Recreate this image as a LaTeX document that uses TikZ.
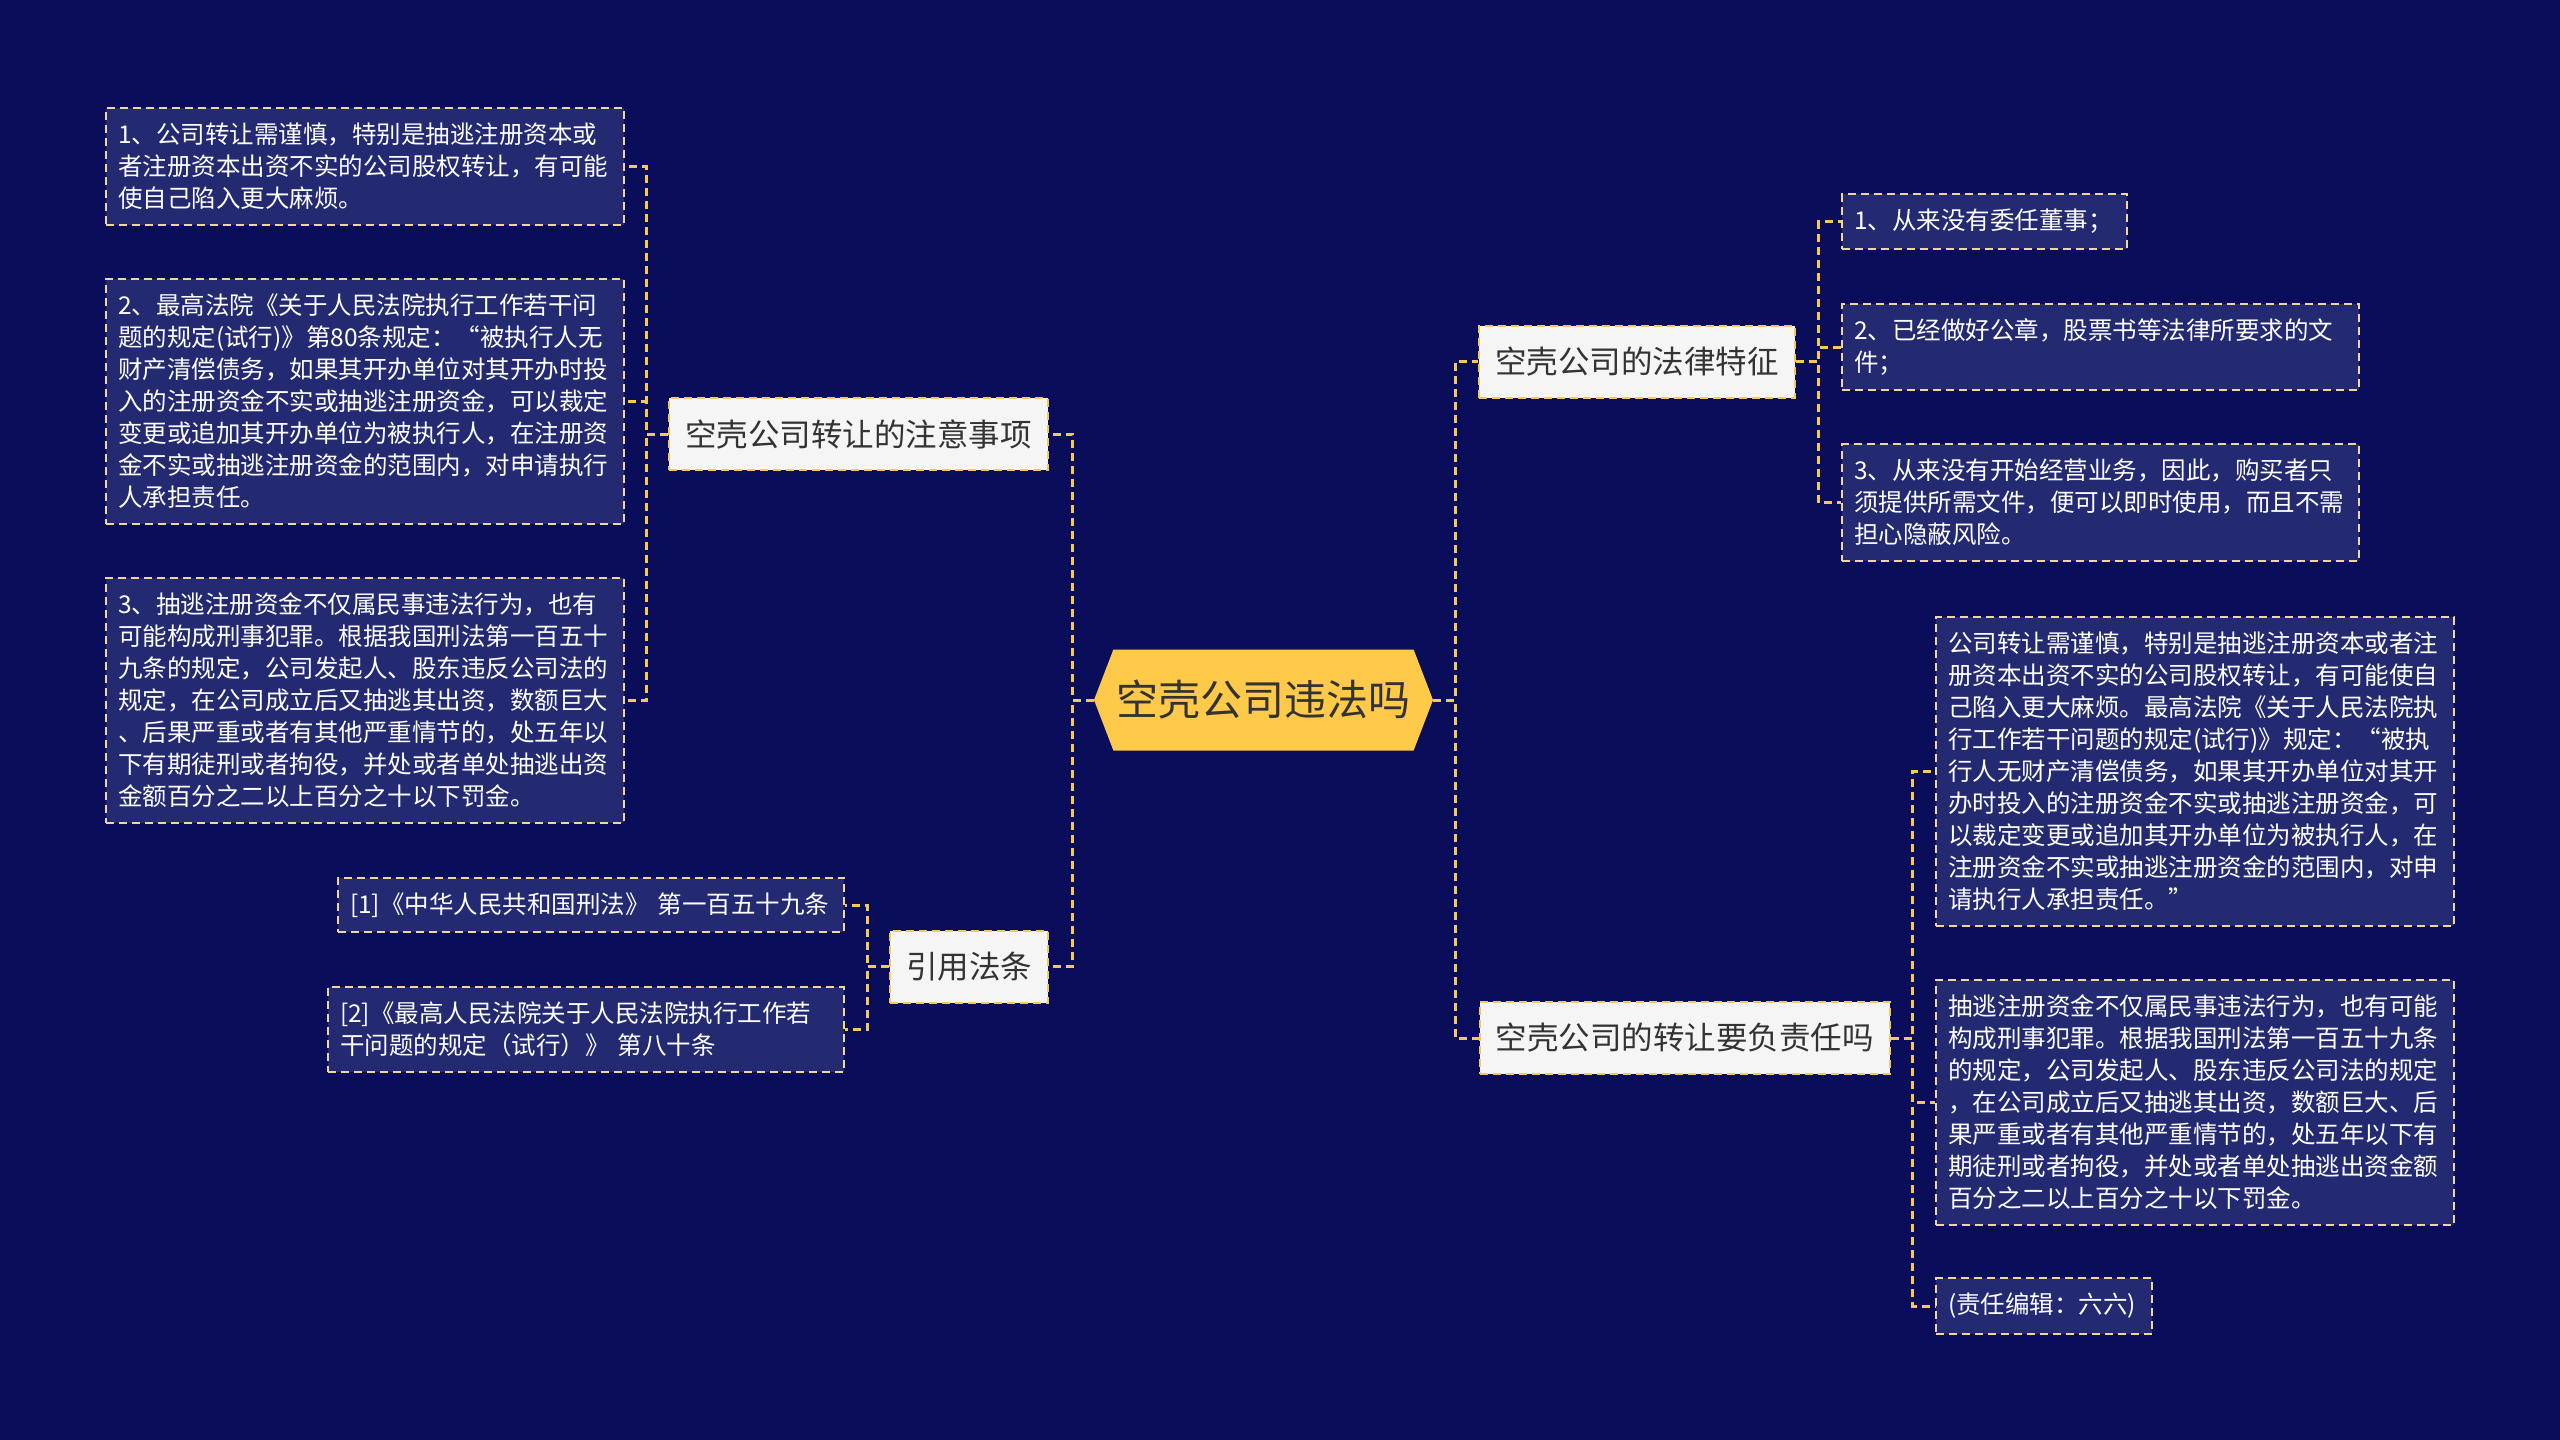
\documentclass[tikz,border=0pt]{standalone}
\usepackage{fontspec}
\setmainfont{Noto Sans CJK SC}
\usetikzlibrary{shapes.symbols}
\definecolor{mNavy}{HTML}{0A0E5A}
\definecolor{mLeaf}{HTML}{242A72}
\definecolor{mGold}{HTML}{FFC94A}
\definecolor{mCream}{HTML}{F2D79C}
\definecolor{mLine}{HTML}{F5C85A}
\definecolor{mPaper}{HTML}{F5F5F5}
\definecolor{mInk}{HTML}{333333}

\begin{document}
\begin{tikzpicture}[
  x=1pt, y=-1pt,
  hub/.style={shape=signal, signal to=west and east, signal pointer angle=138,
              fill=mGold, text=mInk, minimum width=339pt, minimum height=101pt,
              inner sep=0pt, font=\fontsize{42}{50}\selectfont},
  topic/.style={draw=mLine, fill=mPaper, text=mInk, line width=2pt,
                dash pattern=on 8pt off 5pt, minimum height=72pt,
                inner xsep=16pt, font=\fontsize{31.5}{38}\selectfont},
  leaf/.style={draw=mCream, fill=mLeaf, text=white, line width=2pt,
               dash pattern=on 8pt off 5pt, align=left, text width=#1,
               inner xsep=12pt, inner ysep=15pt,
               font=\fontsize{24.5}{32}\selectfont},
  leaf/.default=494pt,
  link/.style={draw=mLine, line width=3pt, dash pattern=on 8pt off 5pt},
]
  \fill[mNavy] (0,0) rectangle (2560,1440);

  % Centre
  \node[hub] (hub) at (1263.5,700) {空壳公司违法吗};

  % Left branches
  \node[topic] (care) at (858.5,434) {空壳公司转让的注意事项};
  \node[topic] (laws) at (969,966.5) {引用法条};

  \node[leaf] (care1) at (365,166.5) {1、公司转让需谨慎，特别是抽逃注册资本或\\者注册资本出资不实的公司股权转让，有可能\\使自己陷入更大麻烦。};
  \node[leaf] (care2) at (365,401.5) {2、最高法院《关于人民法院执行工作若干问\\题的规定(试行)》第80条规定：“被执行人无\\财产清偿债务，如果其开办单位对其开办时投\\入的注册资金不实或抽逃注册资金，可以裁定\\变更或追加其开办单位为被执行人，在注册资\\金不实或抽逃注册资金的范围内，对申请执行\\人承担责任。};
  \node[leaf] (care3) at (365,700.5) {3、抽逃注册资金不仅属民事违法行为，也有\\可能构成刑事犯罪。根据我国刑法第一百五十\\九条的规定，公司发起人、股东违反公司法的\\规定，在公司成立后又抽逃其出资，数额巨大\\、后果严重或者有其他严重情节的，处五年以\\下有期徒刑或者拘役，并处或者单处抽逃出资\\金额百分之二以上百分之十以下罚金。};

  \node[leaf=482pt] (ref1) at (591,905) {[1]《中华人民共和国刑法》 第一百五十九条};
  \node[leaf=492pt] (ref2) at (586,1029.5) {[2]《最高人民法院关于人民法院执行工作若\\干问题的规定（试行）》 第八十条};

  % Right branches
  \node[topic] (legal) at (1637,361.5) {空壳公司的法律特征};
  \node[topic] (duty) at (1684.5,1038) {空壳公司的转让要负责任吗};

  \node[leaf=261pt] (feat1) at (1984.5,221.5) {1、从来没有委任董事；};
  \node[leaf=493pt] (feat2) at (2100.5,347) {2、已经做好公章，股票书等法律所要求的文\\件；};
  \node[leaf=493pt] (feat3) at (2100.5,502.5) {3、从来没有开始经营业务，因此，购买者只\\须提供所需文件，便可以即时使用，而且不需\\担心隐蔽风险。};

  \node[leaf] (duty1) at (2195,771.5) {公司转让需谨慎，特别是抽逃注册资本或者注\\册资本出资不实的公司股权转让，有可能使自\\己陷入更大麻烦。最高法院《关于人民法院执\\行工作若干问题的规定(试行)》规定：“被执\\行人无财产清偿债务，如果其开办单位对其开\\办时投入的注册资金不实或抽逃注册资金，可\\以裁定变更或追加其开办单位为被执行人，在\\注册资金不实或抽逃注册资金的范围内，对申\\请执行人承担责任。”};
  \node[leaf] (duty2) at (2195,1102.5) {抽逃注册资金不仅属民事违法行为，也有可能\\构成刑事犯罪。根据我国刑法第一百五十九条\\的规定，公司发起人、股东违反公司法的规定\\，在公司成立后又抽逃其出资，数额巨大、后\\果严重或者有其他严重情节的，处五年以下有\\期徒刑或者拘役，并处或者单处抽逃出资金额\\百分之二以上百分之十以下罚金。};
  \node[leaf=192pt] (duty3) at (2044,1306) {(责任编辑：六六)};

  % Connectors
  \foreach \t in {care,laws}
    \draw[link] (hub.west) -- ++(-21,0) |- (\t.east);
  \foreach \t in {legal,duty}
    \draw[link] (hub.east) -- ++(22,0) |- (\t.west);
  \foreach \t in {care1,care2,care3}
    \draw[link] (care.west) -- ++(-22,0) |- (\t.east);
  \foreach \t in {ref1,ref2}
    \draw[link] (laws.west) -- ++(-22,0) |- (\t.east);
  \foreach \t in {feat1,feat2,feat3}
    \draw[link] (legal.east) -- ++(23,0) |- (\t.west);
  \foreach \t in {duty1,duty2,duty3}
    \draw[link] (duty.east) -- ++(22,0) |- (\t.west);
\end{tikzpicture}
\end{document}
